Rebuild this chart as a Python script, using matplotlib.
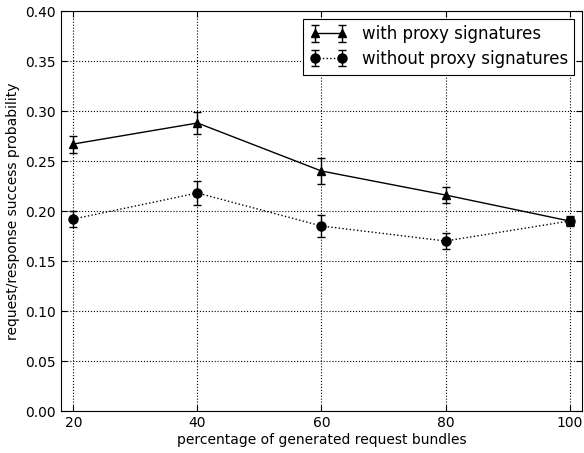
import matplotlib
matplotlib.use('Agg')
import matplotlib.pyplot as plt
import numpy as np

bundles = [20, 40, 60, 80, 100]
with_proxy = [0.267, 0.288, 0.240, 0.216, 0.190]
with_proxy_err = [0.0085, 0.011, 0.013, 0.008, 0.005]
without_proxy = [0.192, 0.218, 0.185, 0.170, 0.190]
without_proxy_err = [0.008, 0.012, 0.011, 0.008, 0.004]

fig = plt.figure(figsize=(5.84, 4.53), dpi=100)
ax = fig.add_axes([0.1045, 0.0927, 0.892, 0.883])

ax.errorbar(bundles, with_proxy, yerr=with_proxy_err, color='black', marker='^',
            markersize=6, linestyle='-', linewidth=1, capsize=3, elinewidth=1,
            label='with proxy signatures')
ax.errorbar(bundles, without_proxy, yerr=without_proxy_err, color='black', marker='o',
            markersize=6.5, linestyle=':', linewidth=1, capsize=3, elinewidth=1,
            label='without proxy signatures')

ax.set_xlim(18, 102)
ax.set_ylim(0, 0.4)
ax.set_xticks(bundles)
ax.set_yticks(np.arange(0, 0.41, 0.05))
ax.set_yticklabels(['%.2f' % v for v in np.arange(0, 0.41, 0.05)])
ax.tick_params(direction='in', labelsize=10, length=4, top=True, right=True)
ax.grid(True, color='black', linestyle=':', linewidth=0.8)
ax.set_xlabel('percentage of generated request bundles', fontsize=10, labelpad=2)
ax.set_ylabel('request/response success probability', fontsize=10, labelpad=4)

leg = ax.legend(loc='upper right', fontsize=12, fancybox=False, framealpha=1,
                edgecolor='black', handlelength=2.2, numpoints=2,
                borderaxespad=0.45, borderpad=0.4, labelspacing=0.4, handletextpad=0.9)
leg.get_frame().set_linewidth(0.8)

fig.savefig('out.png', dpi=100)
